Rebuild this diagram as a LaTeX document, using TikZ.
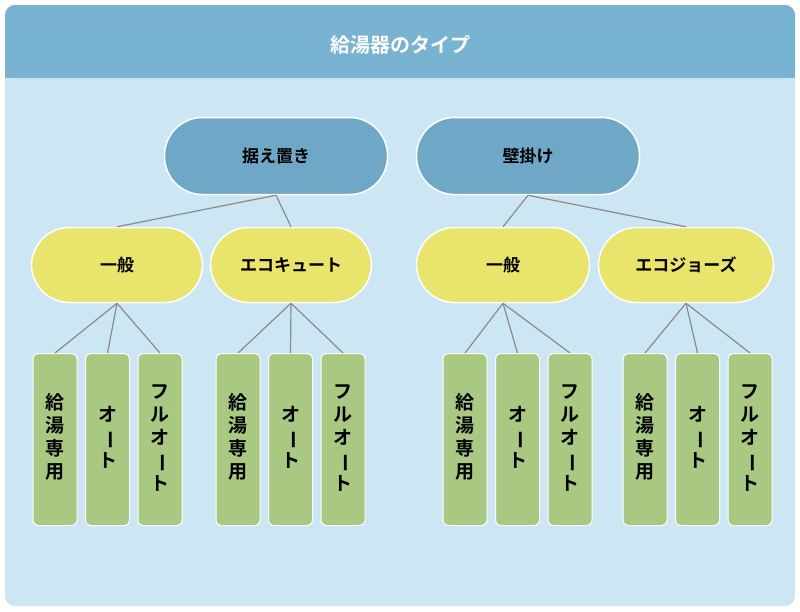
\documentclass[tikz,border=0pt]{standalone}
\usepackage{fontspec}
\newfontfamily\jp{Noto Sans CJK JP Bold}
\definecolor{bgc}{HTML}{CDE6F4}
\definecolor{hdc}{HTML}{78B4D2}
\definecolor{l1c}{HTML}{6FA8C6}
\definecolor{l2c}{HTML}{E8E46C}
\definecolor{l3c}{HTML}{A9C982}
\definecolor{lnc}{HTML}{8A8A8A}
\newcommand{\vb}{\rotatebox[origin=c]{-90}{ー}}
\begin{document}
\begin{tikzpicture}[x=1pt,y=-1pt,
  pill/.style={draw=white,line width=1.5pt,rounded corners=38pt,minimum height=77pt,font=\jp\fontsize{17}{20}\selectfont,inner sep=0pt},
  lone/.style={pill,fill=l1c,minimum width=223pt},
  ltwo/.style={pill,fill=l2c,minimum height=75pt},
  lthree/.style={draw=white,line width=1pt,fill=l3c,rounded corners=5pt,minimum width=44pt,minimum height=172pt,anchor=north,inner sep=0pt,font=\jp\fontsize{19}{23}\selectfont,align=center,text depth=0pt},
  conn/.style={draw=lnc,line width=1.2pt}]
\useasboundingbox (0,0) rectangle (800,611);
\fill[bgc,rounded corners=10pt] (5,5) rectangle (795,606);
\fill[hdc,rounded corners=10pt] (5,5) rectangle (795,78);
\fill[hdc] (5,40) rectangle (795,78);
\node (title) at (400,45) [text=white,font=\jp\fontsize{20}{24}\selectfont] {給湯器のタイプ};
\node[lone] (a) at (276,156) {据え置き};
\node[lone] (b) at (528,156) {壁掛け};
\node[ltwo,minimum width=171pt] (a1) at (117,265) {一般};
\node[ltwo,minimum width=161pt] (a2) at (291,265) {エコキュート};
\node[ltwo,minimum width=173pt] (b1) at (503,265) {一般};
\node[ltwo,minimum width=175pt] (b2) at (686,265) {エコジョーズ};
\foreach \p/\c in {a/a1,a/a2,b/b1,b/b2}{\draw[conn] (\p.south) -- (\c.north);}
\foreach \g/\x in {a1/55,a2/238,b1/465,b2/645}{
  \node[lthree] (\g k) at (\x,353) {\\[-14pt]給\\湯\\専\\用};
  \node[lthree] (\g o) at (\x+52.5,353) {\\[-14pt]オ\\\vb\\ト};
  \node[lthree] (\g f) at (\x+105,353) {\\[-14pt]フ\\ル\\オ\\\vb\\ト};
  \foreach \s in {k,o,f}{\draw[conn] (\g.south) -- (\g\s.north);}
}
\end{tikzpicture}
\end{document}
